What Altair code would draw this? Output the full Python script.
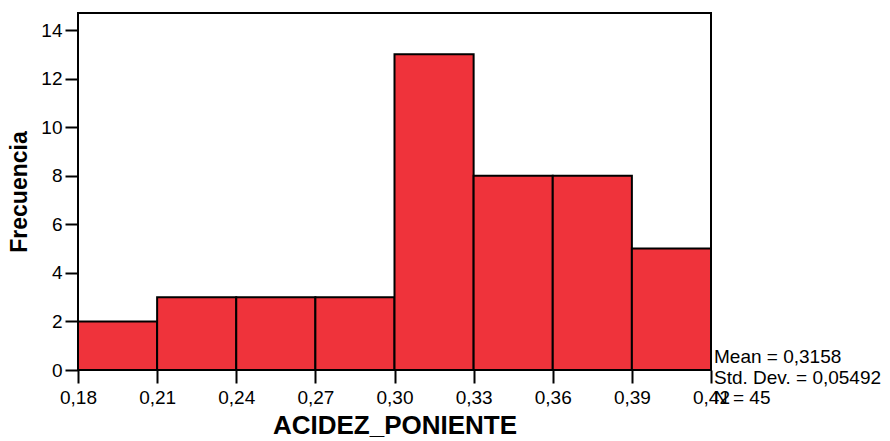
import altair as alt
import pandas as pd

bin_start = [0.18, 0.21, 0.24, 0.27, 0.30, 0.33, 0.36, 0.39]
bin_end = [0.21, 0.24, 0.27, 0.30, 0.33, 0.36, 0.39, 0.42]
counts = [2, 3, 3, 3, 13, 8, 8, 5]
x_ticks = [0.18, 0.21, 0.24, 0.27, 0.30, 0.33, 0.36, 0.39, 0.42]
y_ticks = [0, 2, 4, 6, 8, 10, 12, 14]
stats_lines = ["Mean = 0,3158", "Std. Dev. = 0,05492", "N = 45"]

df = pd.DataFrame({"start": bin_start, "end": bin_end, "count": counts})
stats_df = pd.DataFrame({"label": stats_lines, "row": [0, 1, 2]})

FONT = "Liberation Sans"

bars = alt.Chart(df).mark_rect(
    color="#EF333B", stroke="black", strokeWidth=2
).encode(
    x=alt.X("start:Q",
            scale=alt.Scale(domain=[0.18, 0.42], nice=False, zero=False),
            axis=alt.Axis(values=x_ticks, title="ACIDEZ_PONIENTE",
                          labelExpr="replace(format(datum.value, '.2f'), '.', ',')",
                          grid=False, domain=False, tickColor="black", tickWidth=2,
                          tickSize=13, labelFontSize=19, labelColor="black",
                          labelFont=FONT, labelPadding=5, labelFlush=False,
                          labelOverlap=False,
                          titleFont=FONT, titleFontSize=26, titleFontWeight="bold",
                          titleColor="black", titlePadding=5)),
    x2="end:Q",
    y=alt.Y("count:Q",
            scale=alt.Scale(domain=[0, 14.7], nice=False),
            axis=alt.Axis(values=y_ticks, title="Frecuencia", grid=False,
                          domain=False, tickColor="black", tickWidth=2, tickSize=13,
                          labelFontSize=19, labelColor="black", labelFont=FONT,
                          labelPadding=3,
                          titleFont=FONT, titleFontSize=23, titleFontWeight="bold",
                          titleColor="black", titlePadding=9)),
    y2=alt.datum(0),
)

stats = alt.Chart(stats_df).mark_text(
    align="left", baseline="middle", fontSize=19, font=FONT, color="black", clip=False
).encode(
    x=alt.value(636),
    y=alt.Y("row:Q", scale=alt.Scale(domain=[0, 2], range=[344, 385]), axis=None),
    text="label:N",
)

chart = alt.layer(bars, stats).resolve_scale(y="independent").properties(
    width=633, height=357,
    autosize=alt.AutoSizeParams(type="none"),
    padding={"left": 78, "top": 13, "right": 179, "bottom": 71},
    background="white",
).configure_view(stroke="black", strokeWidth=2)

chart.save("out.html", embed_options={"renderer": "svg", "actions": False})
